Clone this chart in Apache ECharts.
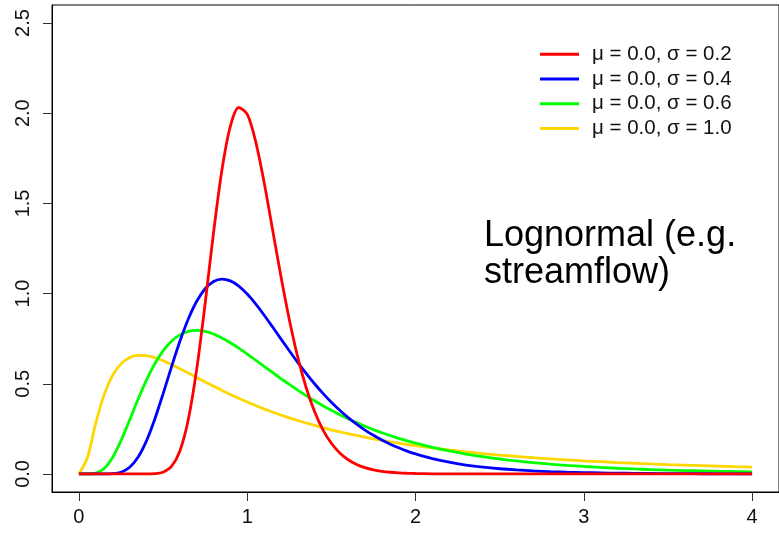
<!DOCTYPE html>
<html>
<head>
<meta charset="utf-8">
<script src="https://cdn.jsdelivr.net/npm/echarts@6/dist/echarts.min.js"></script>
<style>
html,body{margin:0;padding:0;background:#fff;}
#c{width:779px;height:534px;}
</style>
</head>
<body>
<div id="c"></div>
<script>
var xs = [0,0.05,0.1,0.15,0.2,0.25,0.3,0.35,0.4,0.45,0.5,0.55,0.6,0.65,0.7,0.75,0.8,0.85,0.9,0.95,
  1,1.05,1.1,1.15,1.2,1.25,1.3,1.35,1.4,1.45,1.5,1.55,1.6,1.65,1.7,1.75,1.8,1.85,1.9,1.95,
  2,2.1,2.2,2.3,2.4,2.5,2.6,2.7,2.8,2.9,3,3.1,3.2,3.3,3.4,3.5,3.6,3.7,3.8,3.9,4];

var sigma02 = [0,0,0,0,0,0,0,0,0.0001,0.0015,0.0098,0.0416,0.1275,0.3016,0.5810,0.9452,1.3385,1.6868,1.9289,2.0318,
  1.9947,1.8440,1.6187,1.3586,1.0973,0.8566,0.6489,0.4793,0.3461,0.2447,0.1703,0.1166,0.0788,0.0526,0.0348,0.0227,0.0148,0.0095,0.0061,0.0039,
  0.0025,0.0010,0.0004,0.0002,0.0001,0,0,0,0,0,0,0,0,0,0,0,0,0,0,0,0];

var sigma04 = [0,0,0,0.0001,0.0015,0.0098,0.0358,0.0910,0.1808,0.3023,0.4444,0.5935,0.7356,0.8591,0.9575,1.0268,1.0672,1.0804,1.0704,1.0413,
  0.9974,0.9428,0.8813,0.8159,0.7492,0.6830,0.6187,0.5576,0.5001,0.4467,0.3978,0.3531,0.3125,0.2761,0.2434,0.2142,0.1882,0.1652,0.1449,0.1269,
  0.1111,0.0851,0.0650,0.0496,0.0379,0.0289,0.0221,0.0169,0.0130,0.0099,0.0076,0.0059,0.0045,0.0035,0.0027,0.0021,0.0016,0.0013,0.0010,0.0008,0.0006];

var sigma06 = [0,0.0001,0.0042,0.0299,0.0911,0.1844,0.2959,0.4111,0.5180,0.6095,0.6823,0.7359,0.7713,0.7905,0.7961,0.7903,0.7756,0.7541,0.7275,0.6973,
  0.6649,0.6312,0.5969,0.5627,0.5291,0.4964,0.4648,0.4346,0.4058,0.3785,0.3528,0.3285,0.3058,0.2845,0.2646,0.2459,0.2286,0.2124,0.1975,0.1835,
  0.1706,0.1474,0.1275,0.1103,0.0956,0.0829,0.0720,0.0626,0.0545,0.0475,0.0415,0.0362,0.0317,0.0278,0.0244,0.0215,0.0189,0.0167,0.0147,0.0130,0.0115];

var sigma10 = [0,0.0898,0.2816,0.4399,0.5463,0.6105,0.6442,0.6570,0.6555,0.6445,0.6275,0.6067,0.5836,0.5594,0.5348,0.5104,0.4864,0.4632,0.4408,0.4194,
  0.3989,0.3795,0.3610,0.3435,0.3270,0.3113,0.2965,0.2825,0.2693,0.2568,0.2450,0.2338,0.2233,0.2133,0.2039,0.1949,0.1865,0.1785,0.1709,0.1637,
  0.1569,0.1443,0.1329,0.1226,0.1133,0.1049,0.0972,0.0902,0.0839,0.0780,0.0727,0.0679,0.0634,0.0593,0.0555,0.0520,0.0488,0.0458,0.0431,0.0405,0.0382];

var seriesNames = ['\u03bc = 0.0, \u03c3 = 0.2','\u03bc = 0.0, \u03c3 = 0.4','\u03bc = 0.0, \u03c3 = 0.6','\u03bc = 0.0, \u03c3 = 1.0'];
var seriesColors = ['#FF0000','#0000FF','#00FF00','#FFD700'];
var xTicks = [0,1,2,3,4];
var yTicks = [0,0.5,1,1.5,2,2.5];
var annotation = 'Lognormal (e.g.\nstreamflow)';

function zip(ys){ return xs.map(function(x,i){ return [x, ys[i]]; }); }
var allY = [sigma02, sigma04, sigma06, sigma10];

var chart = echarts.init(document.getElementById('c'), null, {renderer:'canvas'});
var FONT = 'Liberation Sans, Arial, sans-serif';
chart.setOption({
  animation:false,
  backgroundColor:'#fff',
  grid:{left:52, right:-2, top:5, bottom:42, show:true, borderColor:'#000', borderWidth:1, backgroundColor:'transparent'},
  xAxis:{
    type:'value', min:-0.16, max:4.16,
    axisLine:{show:true, onZero:false, lineStyle:{color:'#000', width:1}},
    splitLine:{show:false},
    axisTick:{show:true, length:9, customValues:xTicks, lineStyle:{color:'#333', width:1}},
    axisLabel:{customValues:xTicks, margin:15, fontSize:20, color:'#111', fontFamily:FONT,
      formatter:function(v){return String(v);}}
  },
  yAxis:{
    type:'value', min:-0.1, max:2.6,
    axisLine:{show:true, onZero:false, lineStyle:{color:'#000', width:1}},
    splitLine:{show:false},
    axisTick:{show:true, length:9, customValues:yTicks, lineStyle:{color:'#333', width:1}},
    axisLabel:{customValues:yTicks, rotate:90, margin:19, fontSize:20, color:'#111', fontFamily:FONT,
      formatter:function(v){return v.toFixed(1);}}
  },
  legend:{
    orient:'vertical', left:535, top:37, itemGap:0, itemWidth:39, itemHeight:3, icon:'rect',
    textStyle:{fontSize:20.5, color:'#111', fontFamily:FONT, lineHeight:24.7, padding:[0,0,0,8]},
    data:seriesNames
  },
  graphic:[{
    type:'text', left:484, top:218,
    style:{text:annotation, font:'36px Liberation Sans, Arial, sans-serif', lineHeight:37, fill:'#000'}
  }],
  series: allY.map(function(ys,i){
    return {
      name:seriesNames[i], type:'line', data:zip(ys), symbol:'none', smooth:0.3,
      lineStyle:{color:seriesColors[i], width:2.8}, itemStyle:{color:seriesColors[i]},
      z: 10 - i
    };
  })
});
</script>
</body>
</html>
